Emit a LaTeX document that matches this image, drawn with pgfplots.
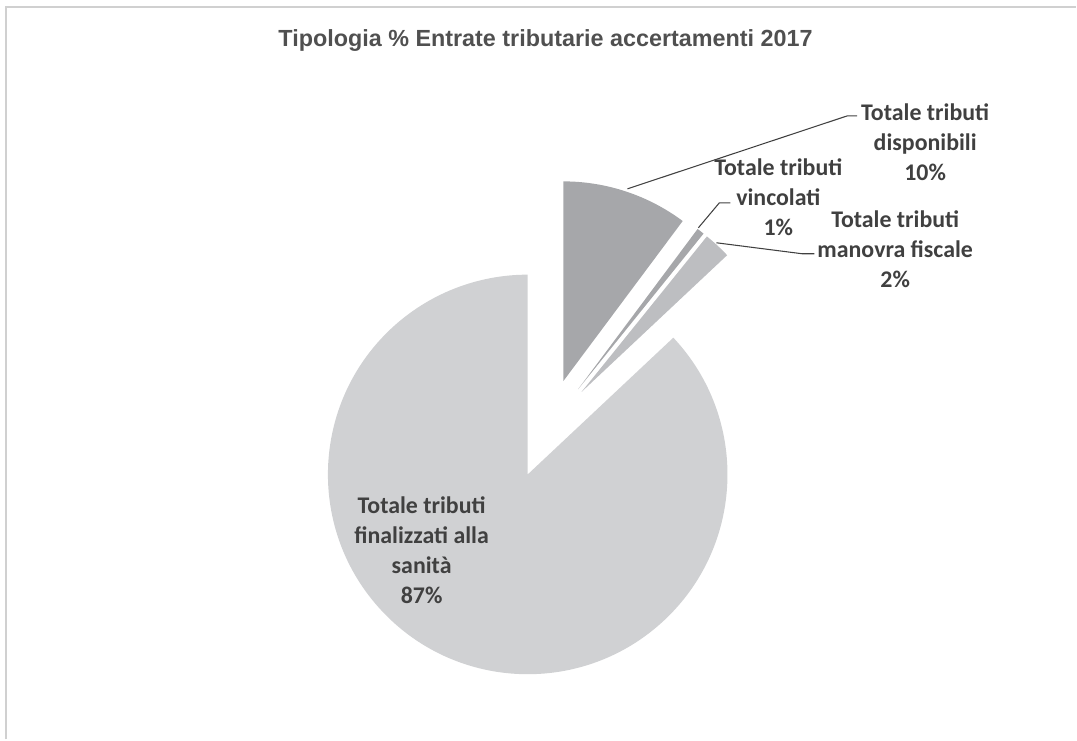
\documentclass[border=0pt]{standalone}
\usepackage{pgfplots}
\usepackage{pgfplotstable}
\pgfplotsset{compat=1.18}
\usepackage{fontspec}
\setmainfont{Liberation Sans}
\newfontfamily\labfont{Carlito}
\definecolor{pieA}{HTML}{A6A7AA}
\definecolor{pieB}{HTML}{BDBEC1}
\definecolor{pieC}{HTML}{D0D1D3}
\definecolor{labcol}{HTML}{404040}
\definecolor{titcol}{HTML}{505050}
\definecolor{framecol}{HTML}{D0D0D0}

% value in percent, colour
\pgfplotstableread{
name value color
disponibili 10.2 pieA
vincolati 0.6 pieA
manovra 2.2 pieB
finalizzati 87.0 pieC
}\piedata

\begin{document}
\begin{tikzpicture}
\begin{axis}[
  x=0.02cm, y=0.02cm,
  xmin=0, xmax=1077, ymin=0, ymax=740,
  hide axis, clip=false, scale only axis,
]
\path (axis cs:0,0) rectangle (axis cs:1077,740);
% frame
\draw[framecol, line width=1.1pt] (axis cs:6,0) -- (axis cs:6,733) -- (axis cs:1077,733);
% title
\node[font=\bfseries\fontsize{13.3}{15}\selectfont, text=titcol, anchor=base, inner sep=0pt] at (axis cs:546,693)
  {Tipologia \% Entrate tributarie accertamenti 2017};
% pie slices
\def\cum{0}
\pgfplotsforeachungrouped \i in {0,...,3}{%
  \pgfplotstablegetelem{\i}{value}\of\piedata \let\val\pgfplotsretval
  \pgfplotstablegetelem{\i}{color}\of\piedata \let\col\pgfplotsretval
  \pgfmathsetmacro\sa{90-3.6*\cum}%
  \pgfmathsetmacro\ea{90-3.6*(\cum+\val)}%
  \pgfmathsetmacro\ma{(\sa+\ea)/2}%
  \pgfmathsetmacro\vx{548+50*cos(\ma)}%
  \pgfmathsetmacro\vy{311+50*sin(\ma)}%
  \pgfmathsetmacro\sx{\vx+200*cos(\sa)}%
  \pgfmathsetmacro\sy{\vy+200*sin(\sa)}%
  \edef\temp{\noexpand\fill[\col] (axis cs:\vx,\vy) -- (axis cs:\sx,\sy) arc[start angle=\sa, end angle=\ea, radius=4cm] -- cycle;}%
  \temp
  \pgfmathsetmacro\cum{\cum+\val}%
}
% leader lines
\draw[labcol, line width=0.6pt] (axis cs:628,551) -- (axis cs:848,624) -- (axis cs:858,624);
\draw[labcol, line width=0.6pt] (axis cs:699,512) -- (axis cs:720,537) -- (axis cs:731,537);
\draw[labcol, line width=0.6pt] (axis cs:717,497) -- (axis cs:803,486) -- (axis cs:815,486);
% labels
\tikzset{lab/.style={font=\labfont\bfseries\fontsize{13.6}{17.1}\selectfont, text=labcol, align=center, inner sep=0pt}}
\node[lab] at (axis cs:926,598) {Totale tributi\\disponibili\\10\%};
\node[lab] at (axis cs:779,543) {Totale tributi\\vincolati\\1\%};
\node[lab] at (axis cs:896,491) {Totale tributi\\manovra fiscale\\2\%};
\node[lab] at (axis cs:422,189) {Totale tributi\\finalizzati alla\\sanità\\87\%};
\end{axis}
\end{tikzpicture}
\end{document}
